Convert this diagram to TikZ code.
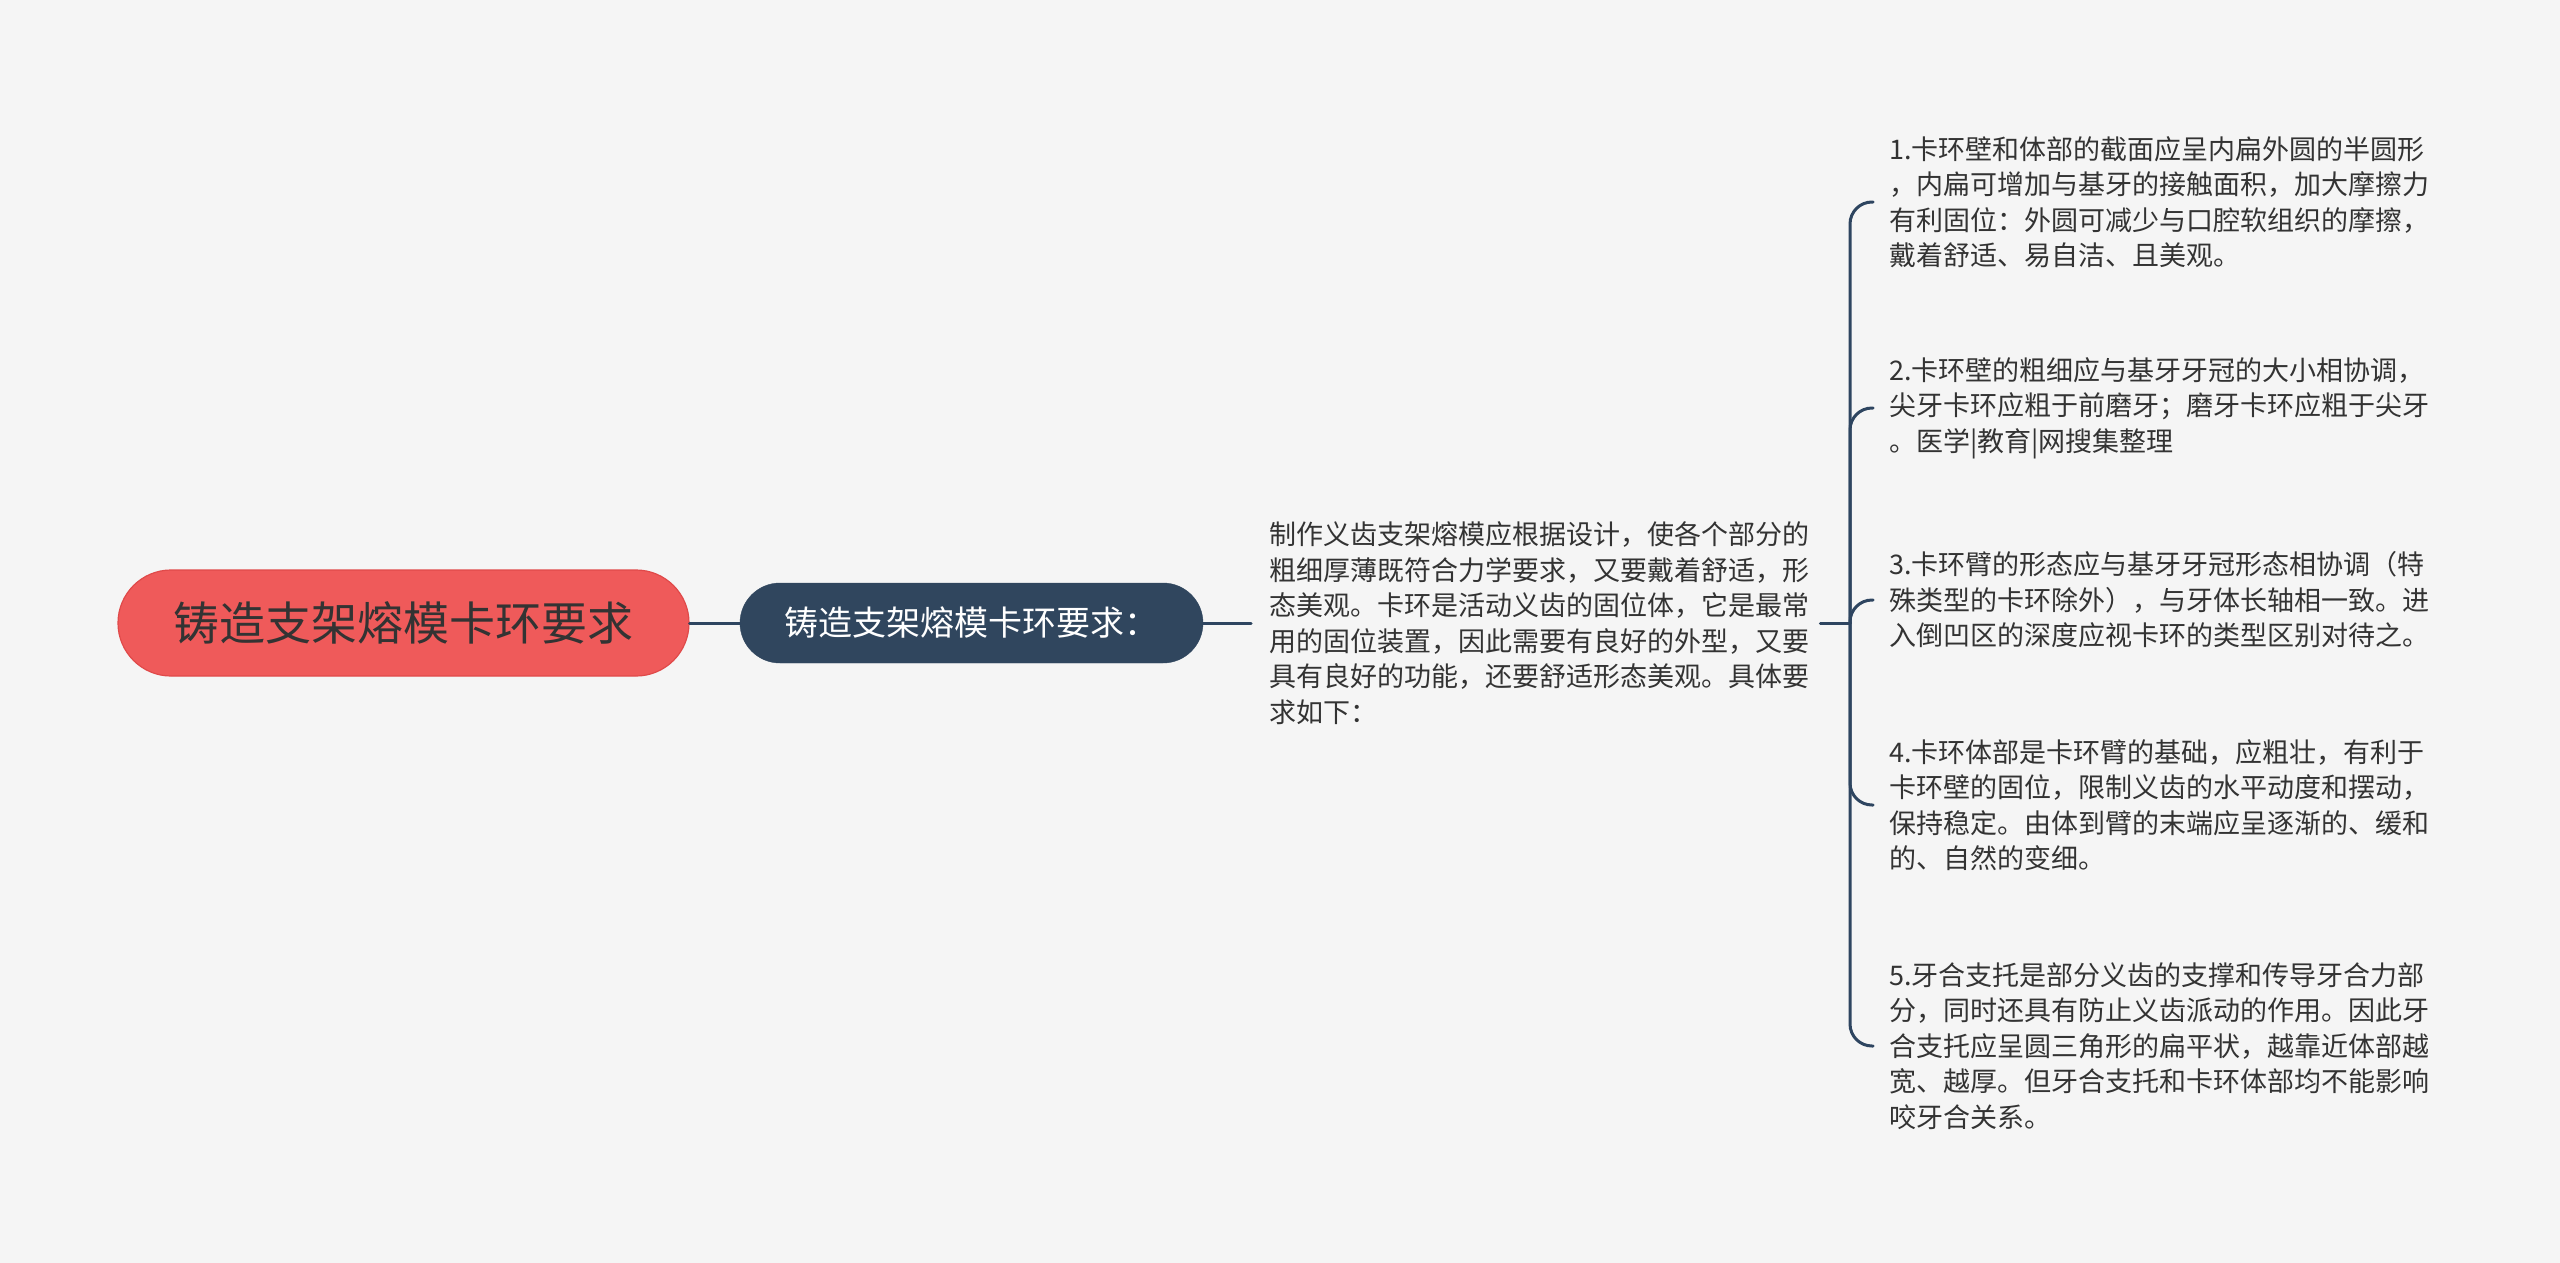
\documentclass[tikz,border=0pt]{standalone}
\usepackage{fontspec}
\setmainfont{Noto Sans CJK SC}
\definecolor{bgc}{HTML}{F5F5F5}
\definecolor{rootc}{HTML}{EF5A5A}
\definecolor{rootd}{HTML}{E04A4A}
\definecolor{subc}{HTML}{30465E}
\definecolor{linec}{HTML}{2E4560}
\definecolor{txtc}{HTML}{333333}
\tikzset{
  rootbox/.style={fill=rootc, draw=rootd, line width=1.2pt, rounded corners=53pt, minimum width=571pt, minimum height=106pt, inner sep=0pt, text=txtc, font=\fontsize{46}{56}\selectfont},
  subbox/.style={fill=subc, draw=subc, rounded corners=40pt, minimum width=463pt, minimum height=80pt, inner sep=0pt, text=white, font=\fontsize{34}{42}\selectfont},
  bodytxt/.style={anchor=west, inner sep=0pt, align=left, text=txtc, font=\fontsize{27}{35.5}\selectfont},
  conn/.style={draw=linec, line width=3pt, line cap=round},
}
\begin{document}
\begin{tikzpicture}[x=1pt, y=-1pt]
\fill[bgc] (0,0) rectangle (2560,1263);
\useasboundingbox (0,0) rectangle (2560,1263);

\node[rootbox] (root) at (403.5,623) {铸造支架熔模卡环要求};
\node[subbox] (sub) at (971.5,623) {铸造支架熔模卡环要求：};

\node[bodytxt] (desc) at (1269,623) {制作义齿支架熔模应根据设计，使各个部分的\\粗细厚薄既符合力学要求，又要戴着舒适，形\\态美观。卡环是活动义齿的固位体，它是最常\\用的固位装置，因此需要有良好的外型，又要\\具有良好的功能，还要舒适形态美观。具体要\\求如下：};

\node[bodytxt] (i1) at (1889,202) {1.卡环壁和体部的截面应呈内扁外圆的半圆形\\，内扁可增加与基牙的接触面积，加大摩擦力\\有利固位：外圆可减少与口腔软组织的摩擦，\\戴着舒适、易自洁、且美观。};
\node[bodytxt] (i2) at (1889,408) {2.卡环壁的粗细应与基牙牙冠的大小相协调，\\尖牙卡环应粗于前磨牙；磨牙卡环应粗于尖牙\\。医学|教育|网搜集整理};
\node[bodytxt] (i3) at (1889,600) {3.卡环臂的形态应与基牙牙冠形态相协调（特\\殊类型的卡环除外），与牙体长轴相一致。进\\入倒凹区的深度应视卡环的类型区别对待之。};
\node[bodytxt] (i4) at (1889,805) {4.卡环体部是卡环臂的基础，应粗壮，有利于\\卡环壁的固位，限制义齿的水平动度和摆动，\\保持稳定。由体到臂的末端应呈逐渐的、缓和\\的、自然的变细。};
\node[bodytxt] (i5) at (1889,1046) {5.牙合支托是部分义齿的支撑和传导牙合力部\\分，同时还具有防止义齿派动的作用。因此牙\\合支托应呈圆三角形的扁平状，越靠近体部越\\宽、越厚。但牙合支托和卡环体部均不能影响\\咬牙合关系。};

\coordinate (hub) at (1850,623);

\draw[conn] (root.east) -- (sub.west);
\draw[conn] (sub.east) -- ([xshift=-18pt]desc.west);
\draw[conn] ([xshift=11pt]desc.east |- hub) -- (hub);
\foreach \n in {i1,i2,i3,i4,i5}{
  \draw[conn, rounded corners=22pt] (hub) |- ([xshift=-16pt]\n.west);
}
\end{tikzpicture}
\end{document}
